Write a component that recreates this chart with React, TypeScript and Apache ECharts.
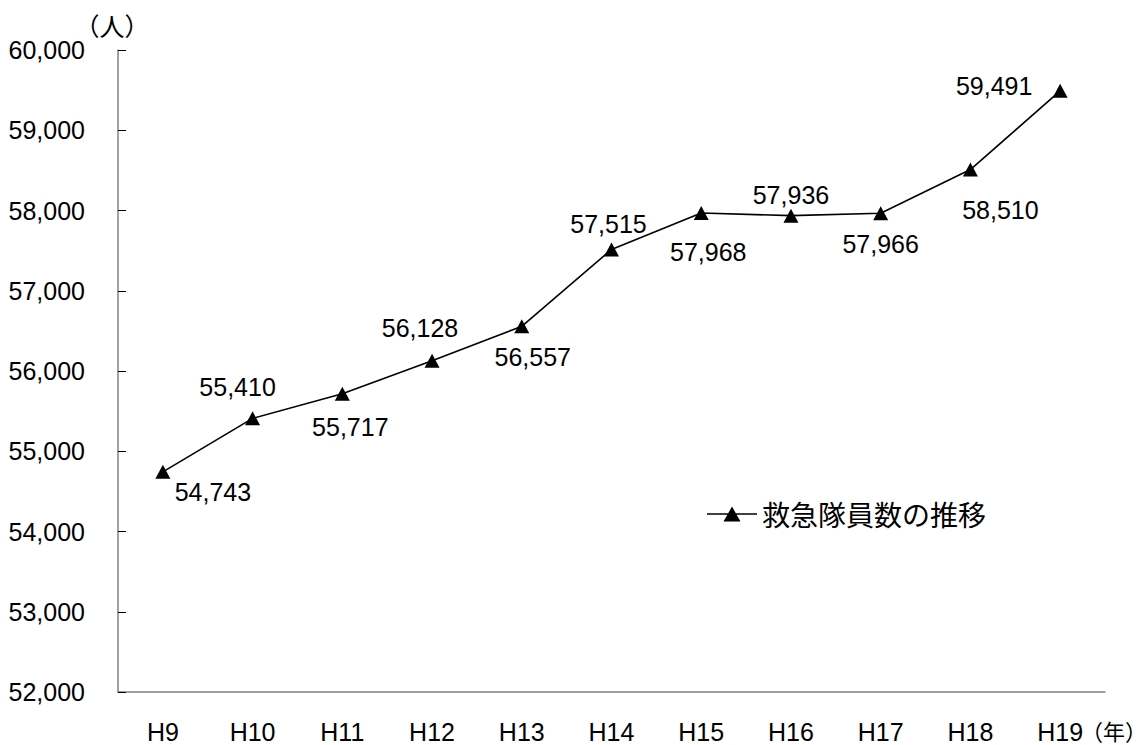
import React, { useEffect, useRef } from "react";
import * as echarts from "echarts";

const categories = ["H9", "H10", "H11", "H12", "H13", "H14", "H15", "H16", "H17", "H18", "H19"];
const members = [54743, 55410, 55717, 56128, 56557, 57515, 57968, 57936, 57966, 58510, 59491];
const yTicks = { min: 52000, max: 60000, interval: 1000 };
const seriesName = "救急隊員数の推移";
const yUnit = "（人）";
const xUnit = "（年）";
// label offsets (style only): where each value label sits relative to its marker
const labelOffsets = [
  [50, 20], [-15, -31], [8, 33], [-12, -33], [11, 31], [-3, -25],
  [7, 39], [0, -21], [0, 31], [30, 40], [-66, -5],
];

const fmt = (v: number) => v.toLocaleString("en-US");
const NUM_FONT = "'Liberation Sans', 'Noto Sans CJK JP', sans-serif";
const JP_FONT = "'Noto Sans CJK JP', 'Liberation Sans', sans-serif";
const LEGEND_ICON = "path://M0,6.7H50V8.3H0Z M25,0L33.5,15H16.5Z";

export default function App() {
  const ref = useRef<HTMLDivElement>(null);
  useEffect(() => {
    if (!ref.current) return;
    const chart = echarts.init(ref.current, null, { renderer: "svg" });
    chart.setOption({
      animation: false,
      backgroundColor: "#fff",
      grid: { left: 118, right: 43, top: 50, bottom: 53 },
      legend: {
        data: [{ name: seriesName, icon: LEGEND_ICON }],
        left: 707,
        top: 500,
        padding: 0,
        itemWidth: 50,
        itemHeight: 15,
        textStyle: { fontSize: 28, color: "#000", fontFamily: JP_FONT },
      },
      graphic: [
        {
          type: "text",
          right: 1,
          top: 719,
          style: { text: xUnit, fontSize: 22, fill: "#000", fontFamily: JP_FONT },
        },
      ],
      xAxis: {
        type: "category",
        data: categories,
        boundaryGap: true,
        axisLine: { lineStyle: { color: "#808080", width: 1.5 } },
        axisTick: { inside: true, length: 8, lineStyle: { color: "#000" } },
        axisLabel: { margin: 27, fontSize: 25, color: "#000", fontFamily: NUM_FONT },
        splitLine: { show: false },
      },
      yAxis: {
        type: "value",
        min: yTicks.min,
        max: yTicks.max,
        interval: yTicks.interval,
        name: yUnit,
        nameLocation: "end",
        nameGap: 12,
        nameTextStyle: { fontSize: 25, color: "#000", fontFamily: JP_FONT, padding: [0, 12, 0, 0] },
        axisLine: { show: true, lineStyle: { color: "#808080", width: 1.5 } },
        axisTick: { show: true, inside: true, length: 8, lineStyle: { color: "#000" } },
        axisLabel: { margin: 33, fontSize: 25, color: "#000", fontFamily: NUM_FONT, formatter: (v: number) => fmt(v) },
        splitLine: { show: false },
      },
      series: [
        {
          name: seriesName,
          type: "line",
          data: members.map((v, i) => ({ value: v, label: { offset: labelOffsets[i] } })),
          symbol: "triangle",
          symbolSize: [15, 14],
          itemStyle: { color: "#000" },
          lineStyle: { color: "#000", width: 1.6 },
          label: {
            show: true,
            position: "inside",
            align: "center",
            verticalAlign: "middle",
            fontSize: 25,
            color: "#000",
            fontFamily: NUM_FONT,
            formatter: (p: any) => fmt(p.value),
          },
        },
      ],
    });
    return () => chart.dispose();
  }, []);
  return (
    <div
      ref={ref}
      style={{ position: "fixed", left: 0, top: 0, width: 1148, height: 745 }}
    />
  );
}
